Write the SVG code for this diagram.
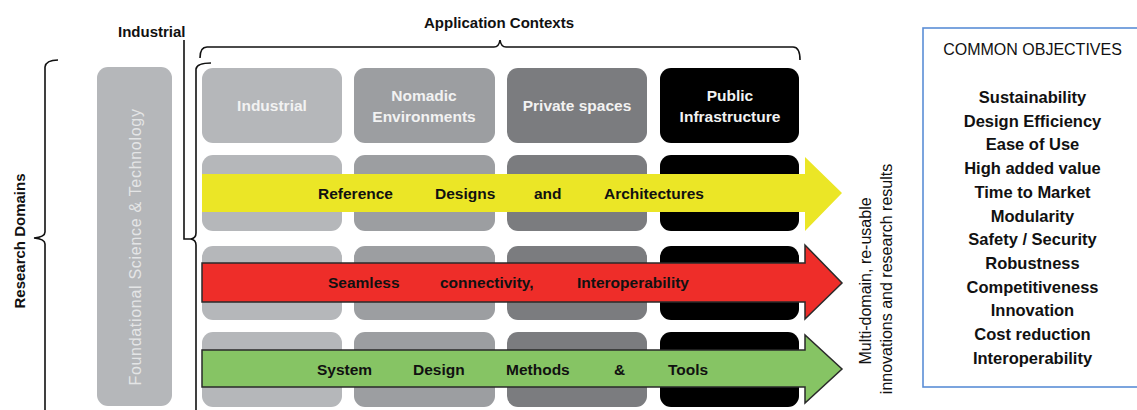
<svg xmlns="http://www.w3.org/2000/svg" width="1137" height="410" viewBox="0 0 1137 410">
<style>
text { font-family: "Liberation Sans", Arial, sans-serif; }
.lbl { font-size: 15px; font-weight: bold; fill: #111; }
.hdr { font-size: 15.5px; font-weight: bold; fill: #f2f2f2; text-anchor: middle; }
.arr { font-size: 15.5px; font-weight: bold; fill: #111; }
.c1 { fill: #b5b7ba; }
.c2 { fill: #9c9ea1; }
.c3 { fill: #7b7c7f; }
.c4 { fill: #000; }
.brace { fill: none; stroke: #111; stroke-width: 1.6; }
.obj { font-size: 16.5px; font-weight: bold; fill: #111; text-anchor: middle; }
.side { font-size: 16px; fill: #111; text-anchor: middle; }
</style>
<rect width="1137" height="410" fill="#fff"/>

<g id="labels">
  <text class="lbl" x="118" y="37">Industrial</text>
  <text class="lbl" x="499" y="28" text-anchor="middle">Application Contexts</text>
  <text class="lbl" transform="translate(25,241) rotate(-90)" text-anchor="middle">Research Domains</text>
</g>

<g id="braces">
  <path class="brace" d="M200,58 Q200,47 207,47 H494 Q499,47 500,40 Q501,47 506,47 H793 Q800,47 800,60"/>
  <path class="brace" d="M58,60 Q46,60 45,67 V232 Q45,237 34,238 Q45,239 45,244 V410"/>
  <path class="brace" d="M184,40 V239 H192"/>
  <path class="brace" d="M211,63 Q197,63 196,69 V233 Q196,238 191,239 Q196,240 196,245 V410"/>
</g>

<g id="foundational">
  <rect class="c1" x="97" y="67" width="75" height="339" rx="11"/>
  <text transform="translate(141,247) rotate(-90)" text-anchor="middle" font-size="16" letter-spacing="0.7" fill="#e4e5e6">Foundational Science &amp; Technology</text>
</g>

<g id="grid">
  <rect class="c1" x="202" y="68" width="140" height="75" rx="11"/>
  <rect class="c2" x="354" y="68" width="141" height="75" rx="11"/>
  <rect class="c3" x="507" y="68" width="140" height="75" rx="11"/>
  <rect class="c4" x="660" y="68" width="139" height="75" rx="11"/>
  <rect class="c1" x="202" y="155" width="140" height="76" rx="11"/>
  <rect class="c2" x="354" y="155" width="141" height="76" rx="11"/>
  <rect class="c3" x="507" y="155" width="140" height="76" rx="11"/>
  <rect class="c4" x="660" y="155" width="139" height="76" rx="11"/>
  <rect class="c1" x="202" y="246" width="140" height="74" rx="11"/>
  <rect class="c2" x="354" y="246" width="141" height="74" rx="11"/>
  <rect class="c3" x="507" y="246" width="140" height="74" rx="11"/>
  <rect class="c4" x="660" y="246" width="139" height="74" rx="11"/>
  <rect class="c1" x="202" y="332" width="140" height="75" rx="11"/>
  <rect class="c2" x="354" y="332" width="141" height="75" rx="11"/>
  <rect class="c3" x="507" y="332" width="140" height="75" rx="11"/>
  <rect class="c4" x="660" y="332" width="139" height="75" rx="11"/>
</g>

<g id="headers">
  <text class="hdr" x="272" y="111">Industrial</text>
  <text class="hdr" x="424" y="101">Nomadic</text>
  <text class="hdr" x="424" y="122">Environments</text>
  <text class="hdr" x="577" y="111">Private spaces</text>
  <text class="hdr" x="730" y="101">Public</text>
  <text class="hdr" x="730" y="122">Infrastructure</text>
</g>

<g id="connectors">
  <g id="arrow-reference">
    <polygon points="202,174 805,174 805,157 842,193 805,231 805,212 202,212" fill="#ebe626"/>
    <text class="arr" x="318" y="199">Reference</text>
    <text class="arr" x="435" y="199">Designs</text>
    <text class="arr" x="534" y="199">and</text>
    <text class="arr" x="604" y="199">Architectures</text>
  </g>
  <g id="arrow-seamless">
    <polygon points="202,263 805,263 805,245 842,283 805,319 805,302 202,302" fill="#ee2d29" stroke="#2a2a2a" stroke-width="1.5"/>
    <text class="arr" x="328" y="288">Seamless</text>
    <text class="arr" x="440" y="288">connectivity,</text>
    <text class="arr" x="577" y="288">Interoperability</text>
  </g>
  <g id="arrow-system">
    <polygon points="202,350 805,350 805,335 842,369 805,403 805,387 202,387" fill="#86c464" stroke="#2a2a2a" stroke-width="1.5"/>
    <text class="arr" x="317" y="375">System</text>
    <text class="arr" x="413" y="375">Design</text>
    <text class="arr" x="506" y="375">Methods</text>
    <text class="arr" x="614" y="375">&amp;</text>
    <text class="arr" x="668" y="375">Tools</text>
  </g>
</g>

<g id="results">
  <text class="side" transform="translate(871,281) rotate(-90)">Multi-domain, re-usable</text>
  <text class="side" transform="translate(892,279) rotate(-90)">innovations and research results</text>
</g>

<g id="objectives">
  <rect x="923" y="28" width="240" height="359" fill="#fff" stroke="#5b8ed6" stroke-width="1.6"/>
  <text x="1032.5" y="55" text-anchor="middle" font-size="16" fill="#111">COMMON OBJECTIVES</text>
  <text class="obj" x="1032.5" y="103">Sustainability</text>
  <text class="obj" x="1032.5" y="126.7">Design Efficiency</text>
  <text class="obj" x="1032.5" y="150.4">Ease of Use</text>
  <text class="obj" x="1032.5" y="174.1">High added value</text>
  <text class="obj" x="1032.5" y="197.8">Time to Market</text>
  <text class="obj" x="1032.5" y="221.5">Modularity</text>
  <text class="obj" x="1032.5" y="245.2">Safety / Security</text>
  <text class="obj" x="1032.5" y="268.9">Robustness</text>
  <text class="obj" x="1032.5" y="292.6">Competitiveness</text>
  <text class="obj" x="1032.5" y="316.3">Innovation</text>
  <text class="obj" x="1032.5" y="340">Cost reduction</text>
  <text class="obj" x="1032.5" y="363.7">Interoperability</text>
</g>
</svg>
